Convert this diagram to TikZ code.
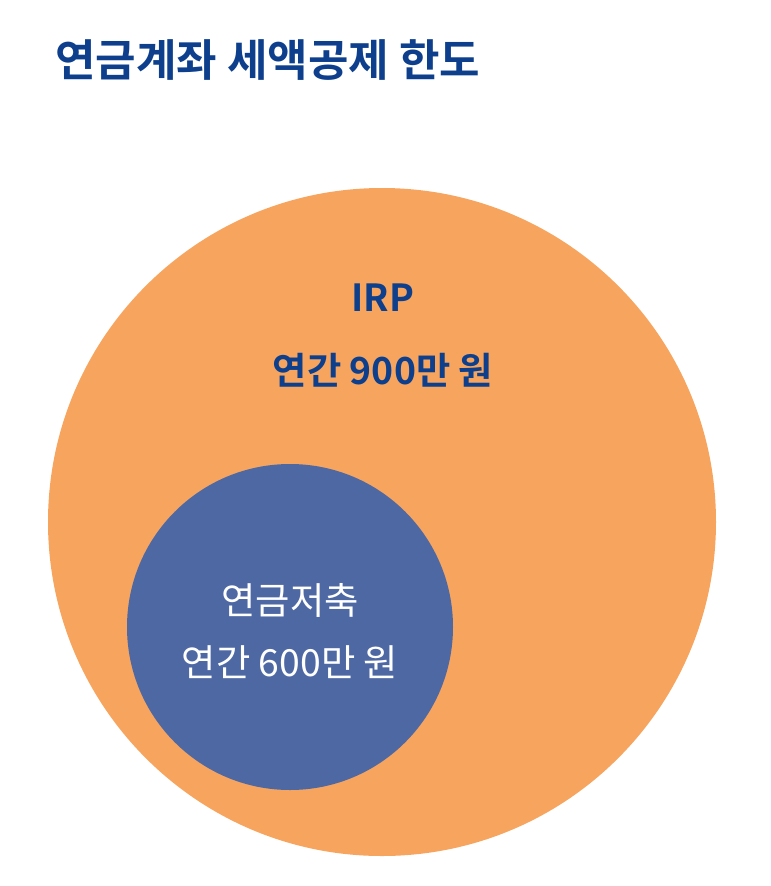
\documentclass[tikz,border=0pt]{standalone}
\usepackage{fontspec}
\setmainfont{Noto Sans CJK KR}
\newfontfamily\kb{Noto Sans CJK KR Bold}
\definecolor{orng}{HTML}{F7A55E}
\definecolor{blu}{HTML}{4E68A4}
\definecolor{navy}{HTML}{0D3F8C}
\begin{document}
\begin{tikzpicture}[x=0.75pt,y=-0.75pt,
  lbl/.style={font=\kb\fontsize{28}{30}\selectfont, inner sep=0pt}]
\useasboundingbox (0,0) rectangle (771,886);
\node[circle, fill=orng, minimum size=668*0.75pt, inner sep=0pt] (big) at (382,522) {};
\node[circle, fill=blu, minimum size=326*0.75pt, inner sep=0pt] (small) at (290,627) {};
\node[anchor=west, inner sep=0pt, text=navy, font=\kb\fontsize{33}{36}\selectfont] (title) at (55,60) {연금계좌 세액공제 한도};
\node[lbl, text=navy] (irp) at (383,298) {IRP};
\node[lbl, text=navy] (irpv) at (383,370) {연간 900만 원};
\node[lbl, text=white, font=\fontsize{28}{30}\selectfont] (ps) at (290,600) {연금저축};
\node[lbl, text=white, font=\fontsize{28}{30}\selectfont] (psv) at (290,662) {연간 600만 원};
\end{tikzpicture}
\end{document}
